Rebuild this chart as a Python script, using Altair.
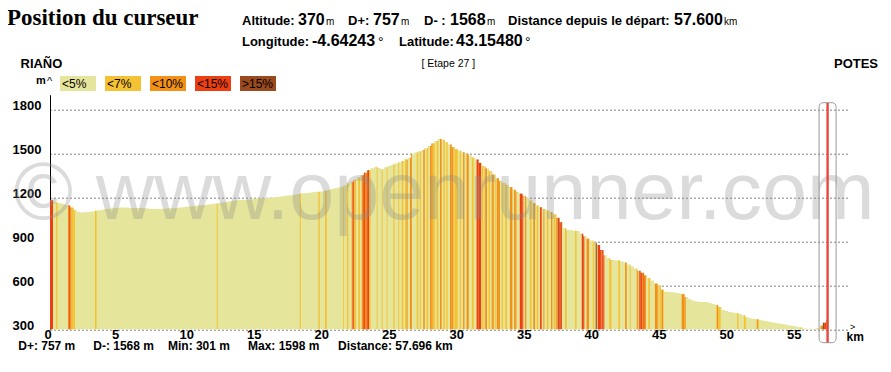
import altair as alt
import pandas as pd

# ---------------- data ----------------
STEP_KM = 0.25
END_KM = 57.696
BASE_ALT = 300

# altitude (m) every 0.25 km, from km 0 to km 57.5
elevation = [
    1180, 1170, 1162, 1158, 1150, 1145, 1130, 1112,
    1102, 1097, 1098, 1100, 1103, 1108, 1112, 1116,
    1120, 1122, 1125, 1128, 1130, 1130, 1130, 1129,
    1128, 1128, 1128, 1127, 1125, 1122, 1120, 1120,
    1120, 1122, 1124, 1125, 1126, 1128, 1130, 1133,
    1136, 1138, 1140, 1143, 1146, 1148, 1150, 1153,
    1156, 1158, 1162, 1166, 1170, 1175, 1178, 1180,
    1182, 1182, 1183, 1186, 1190, 1192, 1194, 1195,
    1196, 1198, 1200, 1203, 1206, 1209, 1212, 1215,
    1218, 1222, 1226, 1228, 1230, 1233, 1236, 1238,
    1240, 1245, 1250, 1256, 1262, 1267, 1272, 1282,
    1295, 1307, 1320, 1335, 1350, 1368, 1385, 1398,
    1408, 1400, 1392, 1405, 1415, 1422, 1430, 1438,
    1447, 1458, 1470, 1498, 1505, 1512, 1522, 1535,
    1550, 1568, 1585, 1598,
    1592, 1575, 1560, 1542,
    1528, 1518, 1508, 1498,
    1485, 1472, 1458, 1435,
    1412, 1396, 1380, 1355,
    1330, 1312, 1298, 1285,
    1270, 1252, 1238, 1225,
    1210, 1196, 1178, 1160,
    1145, 1132, 1120, 1110,
    1100, 1085, 1060, 1030,
    990, 978, 975, 972,
    970, 952, 935, 918,
    905, 892, 875, 840,
    805, 785, 772, 771,
    770, 762, 755, 742,
    728, 714, 700, 685,
    668, 650, 632, 612,
    598, 570, 556, 554,
    552, 549, 546, 540,
    520, 506, 497, 490,
    488, 487, 486, 480,
    472, 465, 452, 432,
    424, 418, 415, 410,
    405, 395, 382, 376,
    372, 368, 364, 358,
    355, 350, 345, 342,
    338, 334, 330, 326,
    322, 318, 312, 306,
    304, 304, 304, 306,
    325, 345, 365,
]

categories = ["<5%", "<7%", "<10%", "<15%", ">15%"]
cat_colors = ["#E5E59B", "#F5C233", "#F39117", "#EE3F12", "#9A4A1D"]

# slope stripes: start km, end km, category index
stripe_start = [0.00, 0.44, 1.33, 1.42, 1.52, 1.60, 3.33, 12.35, 18.50, 19.88,
                20.37, 21.70, 22.00, 22.35, 22.42, 22.54, 22.84, 23.09, 23.20, 23.33,
                23.46, 23.65, 24.20, 24.57, 24.94, 25.43, 25.80, 26.05, 26.30, 26.42,
                26.67, 27.16, 27.40, 27.65, 27.90, 28.15, 28.35, 28.64, 28.89, 29.14,
                29.35, 29.63, 29.95, 30.35, 30.60, 30.86, 31.25, 31.60, 31.98, 32.20,
                32.47, 32.72, 32.95, 33.09, 33.45, 33.70, 34.07, 34.38, 34.80, 35.18,
                35.55, 35.80, 36.05, 36.30, 36.55, 36.80, 37.11, 37.30, 37.47, 37.60,
                37.73, 37.80, 38.15, 38.90, 39.39, 39.75, 40.20, 40.42, 40.57, 40.90,
                41.42, 42.10, 42.60, 42.95, 43.46, 43.65, 43.85, 43.95, 44.05, 44.32,
                44.81, 45.14, 45.31, 46.79, 49.38, 49.50, 50.90, 51.40, 52.35, 52.44,
                55.56, 56.79, 57.10, 57.22, 57.35, 57.50]
stripe_end = [0.22, 0.55, 1.42, 1.52, 1.60, 1.85, 3.45, 12.42, 18.58, 19.98,
              20.50, 21.78, 22.10, 22.42, 22.54, 22.67, 22.96, 23.20, 23.33, 23.46,
              23.65, 23.75, 24.27, 24.64, 25.00, 25.53, 25.87, 26.17, 26.42, 26.49,
              26.81, 27.28, 27.48, 27.78, 28.02, 28.35, 28.52, 28.77, 29.01, 29.26,
              29.45, 29.88, 30.20, 30.45, 30.70, 31.03, 31.38, 31.93, 32.10, 32.37,
              32.60, 32.87, 33.03, 33.33, 33.57, 33.85, 34.25, 34.55, 35.06, 35.28,
              35.67, 35.93, 36.17, 36.42, 36.62, 36.92, 37.21, 37.42, 37.57, 37.73,
              37.80, 37.92, 38.28, 39.00, 39.58, 39.93, 40.32, 40.52, 40.86, 41.06,
              41.60, 42.22, 42.72, 43.03, 43.58, 43.85, 43.95, 44.05, 44.15, 44.44,
              45.06, 45.31, 45.43, 47.09, 49.50, 49.68, 51.00, 51.56, 52.44, 52.52,
              55.65, 56.91, 57.22, 57.35, 57.50, 57.60]
stripe_cat = [3, 1, 2, 3, 2, 1, 1, 1, 1, 1,
              1, 1, 1, 2, 3, 1, 1, 2, 3, 2,
              3, 1, 1, 1, 1, 1, 1, 1, 1, 2,
              2, 1, 1, 2, 1, 2, 1, 1, 2, 1,
              1, 2, 1, 1, 2, 2, 1, 3, 1, 2,
              1, 2, 1, 2, 1, 1, 2, 2, 3, 2,
              1, 2, 1, 3, 2, 1, 2, 1, 2, 3,
              4, 3, 1, 1, 3, 2, 1, 4, 3, 3,
              1, 1, 2, 1, 2, 3, 2, 3, 2, 1,
              2, 1, 2, 2, 2, 1, 1, 1, 2, 1,
              1, 1, 2, 4, 3, 2]

y_ticks = [300, 600, 900, 1200, 1500, 1800]
x_ticks = [0, 5, 10, 15, 20, 25, 30, 35, 40, 45, 50, 55]
cursor_km = 57.6

# ---------------- tables ----------------
profile = pd.DataFrame({
    "km": [i * STEP_KM for i in range(len(elevation))] + [END_KM],
    "alt": elevation + [elevation[-1]],
})
profile["base"] = BASE_ALT

rows = []
for s, e, c in zip(stripe_start, stripe_end, stripe_cat):
    a = s
    while a < e - 1e-9:
        idx = min(int(a / STEP_KM + 1e-9), len(elevation) - 1)
        b = min(e, (idx + 1) * STEP_KM)
        rows.append({"s": a, "e": b, "top": elevation[idx], "base": BASE_ALT,
                     "cat": categories[c]})
        a = b
stripes = pd.DataFrame(rows)

# ---------------- layout ----------------
OX, OY = 50, 94.7          # page position of plot origin
W, H = 800, 234.6
FONT = "Liberation Sans"
one = pd.DataFrame({"a": [0]})

xscale = alt.Scale(domain=[0, 59.26], nice=False, zero=False)
yscale = alt.Scale(domain=[300, 1900], nice=False, zero=False)
cscale = alt.Scale(domain=categories, range=cat_colors)

xaxis = alt.Axis(
    values=x_ticks, format="d", grid=False, domain=False, ticks=False, tickSize=0,
    labelAlign="left", labelOffset=-6, labelBaseline="top", labelPadding=-1,
    labelFont=FONT, labelFontSize=13, labelFontWeight="bold", labelColor="black",
    labelFlush=False, labelOverlap=False, title=None)
yaxis = alt.Axis(
    values=y_ticks, format="d", grid=True, gridColor="black", gridDash=[1, 3],
    gridWidth=1, domain=True, domainColor="black", domainWidth=1, ticks=False,
    tickSize=0, labelAlign="left", labelPadding=38, labelBaseline="alphabetic",
    labelFont=FONT, labelFontSize=13, labelFontWeight="bold", labelColor="black",
    title=None)


def txt(text, px, py, size, weight="bold", family=FONT, align="left", color="black"):
    return alt.Chart(one).mark_text(
        text=text, align=align, baseline="alphabetic", fontSize=size,
        fontWeight=weight, font=family, color=color
    ).encode(x=alt.value(px - OX), y=alt.value(py - OY))


area = alt.Chart(profile).mark_area(interpolate="step-after", color=cat_colors[0]).encode(
    x=alt.X("km:Q", scale=xscale, axis=xaxis),
    y=alt.Y("alt:Q", scale=yscale, axis=yaxis),
    y2="base:Q",
)

bars = alt.Chart(stripes).mark_rect().encode(
    x=alt.X("s:Q", scale=xscale, axis=xaxis),
    x2="e:Q",
    y=alt.Y("top:Q", scale=yscale, axis=yaxis),
    y2="base:Q",
    color=alt.Color("cat:N", scale=cscale, legend=None),
)

watermark = alt.Chart(one).mark_text(
    text="© www.openrunner.com", align="center", baseline="alphabetic",
    fontSize=81, font=FONT, color="#8c8c8c", opacity=0.3
).encode(x=alt.value(444 - OX), y=alt.value(219 - OY))

cursor_box = alt.Chart(one).mark_rect(
    fill="white", fillOpacity=0, stroke="#999999", strokeWidth=1, cornerRadius=4,
    xOffset=-8.5, x2Offset=8.5
).encode(x=alt.datum(cursor_km), x2=alt.datum(cursor_km),
         y=alt.value(102.7 - OY), y2=alt.value(342.7 - OY))

cursor_line = alt.Chart(one).mark_rule(color="#E8473B", strokeWidth=2.4).encode(
    x=alt.datum(cursor_km), y=alt.value(103 - OY), y2=alt.value(342.5 - OY))

layers = [area, bars, watermark, cursor_box, cursor_line]

# legend boxes
for i, (c, col) in enumerate(zip(categories, cat_colors)):
    bx = 60 + 45 * i
    layers.append(alt.Chart(one).mark_rect(color=col).encode(
        x=alt.value(bx - OX), x2=alt.value(bx + 36 - OX),
        y=alt.value(76 - OY), y2=alt.value(91 - OY)))
    layers.append(txt(c, bx + 2, 88.5, 12, weight="normal"))

# header texts
layers += [
    txt("Position du curseur", 7, 25, 23, family="Liberation Serif"),
    txt("Altitude:", 242, 25, 13),
    txt("370", 298, 25, 16),
    txt("m", 326, 25, 10, weight="normal"),
    txt("D+:", 348, 25, 13),
    txt("757", 373, 25, 16),
    txt("m", 401, 25, 10, weight="normal"),
    txt("D- :", 424, 25, 13),
    txt("1568", 450, 25, 16),
    txt("m", 487, 25, 10, weight="normal"),
    txt("Distance depuis le départ:", 508, 25, 13),
    txt("57.600", 674, 25, 16),
    txt("km", 724, 25, 10, weight="normal"),
    txt("Longitude:", 242, 46, 13),
    txt("-4.64243", 312, 46, 16),
    txt("°", 378, 47, 14, weight="normal"),
    txt("Latitude:", 399, 46, 13),
    txt("43.15480", 456, 46, 16),
    txt("°", 525, 47, 14, weight="normal"),
    txt("RIAÑO", 20.5, 68, 13),
    txt("[ Etape 27 ]", 421.5, 67, 10.5, weight="normal"),
    txt("POTES", 878, 68, 13, align="right"),
    txt("m", 36, 84.5, 11),
    txt("^", 47, 85, 11, weight="normal"),
    txt(">", 850, 330, 9, weight="normal"),
    txt("km", 846.5, 341, 12),
    txt("D+: 757 m", 18.3, 350.5, 12),
    txt("D-: 1568 m", 93.3, 350.5, 12),
    txt("Min: 301 m", 168, 350.5, 12),
    txt("Max: 1598 m", 248, 350.5, 12),
    txt("Distance: 57.696 km", 338, 350.5, 12),
]

chart = alt.layer(*layers).properties(
    width=W, height=H,
    autosize=alt.AutoSizeParams(type="none"),
    padding={"left": 42, "top": 86.7, "right": 33, "bottom": 26},
    background="white",
).configure_view(stroke=None)

chart.save("out.html", embed_options={"renderer": "svg", "actions": False})
